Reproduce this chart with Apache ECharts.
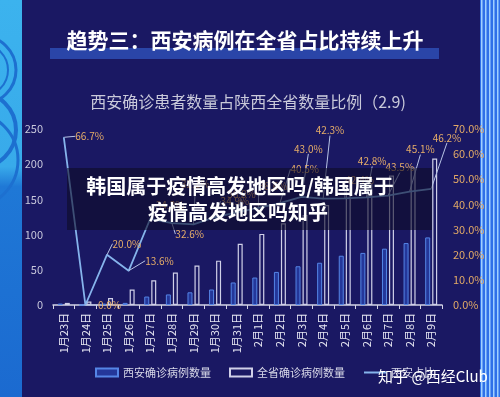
<!DOCTYPE html>
<html>
<head>
<meta charset="utf-8">
<script src="https://cdn.jsdelivr.net/npm/echarts@6/dist/echarts.min.js"></script>
<style>
  html, body { margin: 0; padding: 0; background: #1a1863; }
  #chart { width: 500px; height: 397px; }
</style>
</head>
<body>
<div id="chart"></div>
<script>
// 西安 / 陕西 确诊病例
const dates = ['1月23日', '1月24日', '1月25日', '1月26日', '1月27日', '1月28日', '1月29日', '1月30日', '1月31日',
  '2月1日', '2月2日', '2月3日', '2月4日', '2月5日', '2月6日', '2月7日', '2月8日', '2月9日'];
const xianCases = [2, 0, 2, 3, 12, 15, 18, 22, 32, 39, 47, 55, 60, 70, 74, 80, 88, 96];
const provinceCases = [3, 5, 10, 22, 35, 46, 56, 63, 87, 101, 116, 128, 142, 165, 173, 184, 195, 208];
const xianShare = [66.7, 0.0, 20.0, 13.6, 34.3, 32.6, 32.1, 34.9, 36.8, 38.6, 40.5, 43.0, 42.3, 42.4, 42.8, 43.5, 45.1, 46.2];

// label nudges (px) so they sit like the original
const labelShift = [[6, -1], [7, 0], [0, -11], [11, -10], [0, -14], [-2, 11], [-18, -40], [0, -16], [-15, -18],
  [-5, -22], [5, -34], [-13, -48], [-13, -68], [-5, -18], [-14, -36], [-8, -28], [-9, -42], [-4, -51]];

const FONT = '"Noto Sans CJK SC", "Noto Sans", sans-serif';

const chart = echarts.init(document.getElementById('chart'));

const deco = [];
for (let x = 481; x < 500; x += 4) {
  deco.push({ type: 'rect', shape: { x: x, y: 0, width: 1.5, height: 397 }, style: { fill: '#9fd0ff' }, silent: true, z: -9 });
}
[[-18, 70, 34, 3], [-18, 70, 26, 2], [-22, 130, 38, 4], [-30, 160, 48, 3]].forEach(a => {
  deco.push({ type: 'arc', shape: { cx: a[0], cy: a[1], r: a[2], startAngle: -Math.PI / 2, endAngle: Math.PI / 2 },
    style: { stroke: '#1d70d0', lineWidth: a[3], fill: null }, silent: true, z: -9 });
});

chart.setOption({
  backgroundColor: '#1a1863',
  textStyle: { fontFamily: FONT },
  graphic: [
    // side strips
    { type: 'rect', shape: { x: 0, y: 0, width: 22, height: 397 }, style: { fill: new echarts.graphic.LinearGradient(0, 0, 0, 1, [
      { offset: 0, color: '#3cb3ee' }, { offset: 0.42, color: '#38aaea' }, { offset: 0.47, color: '#1f78d6' }, { offset: 1, color: '#1b6ad0' }]) }, z: -10, silent: true },
    { type: 'rect', shape: { x: 480, y: 0, width: 20, height: 397 }, style: { fill: '#2e70e8' }, z: -10, silent: true },
    ...deco,
    // title
    { type: 'rect', shape: { x: 50, y: 48, width: 389, height: 11 }, style: { fill: '#2a45a8' }, z: 1, silent: true },
    { type: 'text', x: 245, y: 40, style: { text: '趋势三：西安病例在全省占比持续上升', fill: '#ffffff', font: 'bold 21px ' + FONT, align: 'center', verticalAlign: 'middle' }, z: 2 },
    { type: 'text', x: 248, y: 102, style: { text: '西安确诊患者数量占陕西全省数量比例（2.9)', fill: '#c9c9da', font: '16px ' + FONT, align: 'center', verticalAlign: 'middle' }, z: 2 },
    // overlay caption box
    { type: 'rect', shape: { x: 67, y: 168, width: 365, height: 62 }, style: { fill: 'rgba(14,12,38,0.6)' }, z: 100, silent: true },
    { type: 'text', x: 240, y: 186, style: { text: '韩国属于疫情高发地区吗/韩国属于', fill: '#ffffff', font: 'bold 20px ' + FONT, align: 'center', verticalAlign: 'middle' }, z: 101 },
    { type: 'text', x: 238, y: 212, style: { text: '疫情高发地区吗知乎', fill: '#ffffff', font: 'bold 20px ' + FONT, align: 'center', verticalAlign: 'middle' }, z: 101 },
    // watermark
    { type: 'text', x: 433, y: 376, style: { text: '知乎 @西经Club', fill: '#ffffff', font: '15px ' + FONT, align: 'center', verticalAlign: 'middle', shadowColor: 'rgba(0,0,0,0.6)', shadowBlur: 3 }, z: 101 }
  ],
  legend: {
    left: 90, top: 362,
    itemWidth: 22, itemHeight: 8, itemGap: 18,
    textStyle: { color: '#d8d8e8', fontSize: 11 },
    data: [
      { name: '西安确诊病例数量', icon: 'rect' },
      { name: '全省确诊病例数量', icon: 'rect' },
      { name: '西安占比', itemStyle: { opacity: 0 } }
    ]
  },
  grid: { left: 53, right: 58, top: 129, bottom: 92 },
  xAxis: {
    type: 'category',
    data: dates,
    axisLine: { lineStyle: { color: '#d4d4e6', width: 1.5 } },
    axisTick: { show: true, length: 4, lineStyle: { color: '#d4d4e6' } },
    axisLabel: { rotate: 90, color: '#e6e6f2', fontSize: 11, margin: 8 }
  },
  yAxis: [
    {
      type: 'value', min: 0, max: 250, interval: 50,
      axisLine: { show: false }, axisTick: { show: false }, splitLine: { show: false },
      axisLabel: { color: '#c8c8dc', fontSize: 11, margin: 10 }
    },
    {
      type: 'value', min: 0, max: 70, interval: 10,
      axisLine: { show: false }, axisTick: { show: false }, splitLine: { show: false },
      axisLabel: { color: '#e2a966', fontSize: 11, margin: 11, formatter: v => v.toFixed(1) + '%' }
    }
  ],
  series: [
    {
      name: '西安确诊病例数量', type: 'bar', data: xianCases, barWidth: 5, barGap: '40%',
      itemStyle: { color: 'rgba(45,85,210,0.5)', borderColor: '#5585e6', borderWidth: 1 }
    },
    {
      name: '全省确诊病例数量', type: 'bar', data: provinceCases, barWidth: 5,
      itemStyle: { color: 'rgba(28,26,100,0.6)', borderColor: '#d0d0e8', borderWidth: 1.2 }
    },
    {
      name: '西安占比', type: 'line', yAxisIndex: 1, data: xianShare,
      symbol: 'circle', symbolSize: 1, z: 5,
      lineStyle: { color: '#86b4ec', width: 1.8 },
      itemStyle: { color: '#86b4ec' },
      label: {
        show: true, position: 'right', distance: 5,
        color: '#e6ad68', fontSize: 10,
        formatter: p => p.value.toFixed(1) + '%'
      },
      labelLine: { show: true, lineStyle: { color: '#b8c4e6', width: 1 } },
      labelLayout: p => ({ dx: labelShift[p.dataIndex][0], dy: labelShift[p.dataIndex][1] })
    }
  ]
});
</script>
</body>
</html>
